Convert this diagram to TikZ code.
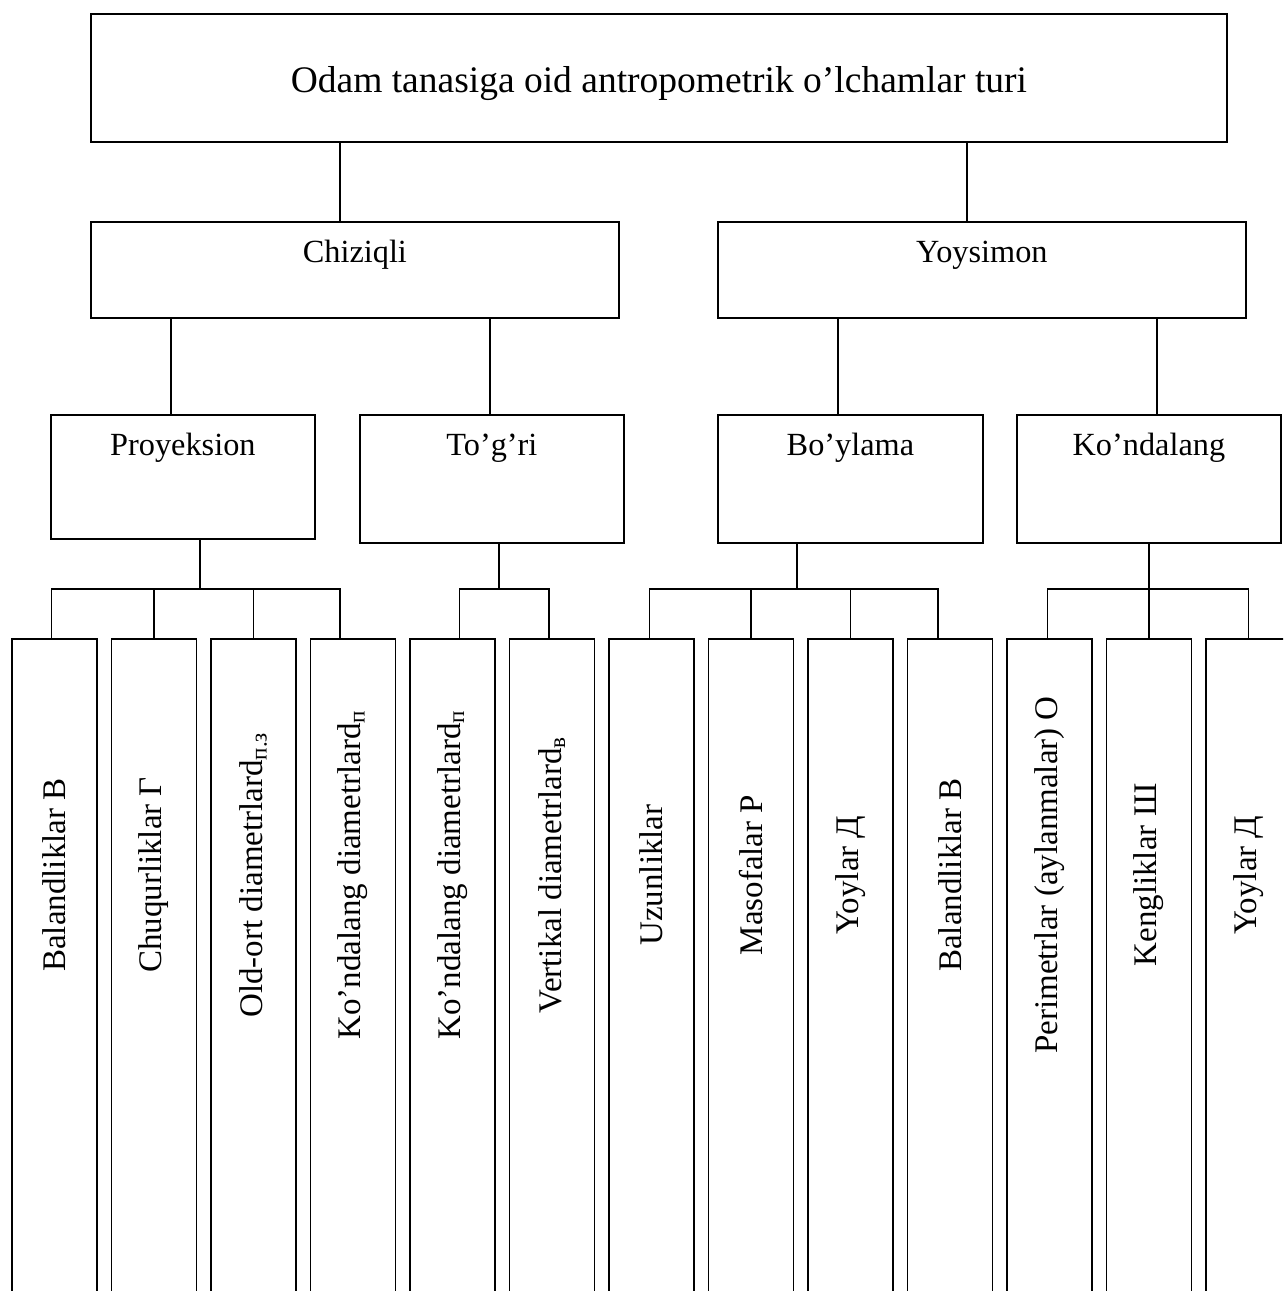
\documentclass[tikz,border=0pt]{standalone}
\usepackage{fontspec}
\setmainfont{Liberation Serif}
\tikzset{%
    mainbox/.style={draw, anchor=north west, inner sep=0pt},
    boxtext/.style={anchor=base, yshift=-41pt, inner sep=0pt,
        font=\fontsize{32.3}{39}\selectfont},
    toptext/.style={anchor=base, yshift=-6pt, inner sep=0pt,
        font=\fontsize{37.5}{45}\selectfont},
    leaf/.style={draw, anchor=north west, inner sep=0pt,
        minimum width=85pt, minimum height=700pt},
    leaftext/.style={rotate=90, inner sep=0pt,
        font=\fontsize{33}{40}\selectfont}
}

\begin{document}
\begin{tikzpicture}[x=1pt, y=-1pt, line width=1.8pt]
    \path[use as bounding box, clip] (0,0) rectangle (1283,1291);
    % top level
    \node[mainbox, minimum width=1136pt, minimum height=128pt,
        label={[toptext]center:Odam tanasiga oid antropometrik o’lchamlar turi}]
        (top) at (90,13) {};
    % second level
    \node[mainbox, minimum width=528pt, minimum height=96pt,
        label={[boxtext]north:Chiziqli}] (chiz) at (90,221) {};
    \node[mainbox, minimum width=528pt, minimum height=96pt,
        label={[boxtext]north:Yoysimon}] (yoys) at (717,221) {};
    % third level
    \node[mainbox, minimum width=264pt, minimum height=124pt,
        label={[boxtext]north:Proyeksion}] (proy) at (50,414) {};
    \node[mainbox, minimum width=264pt, minimum height=128pt,
        label={[boxtext]north:To’g’ri}] (togr) at (359,414) {};
    \node[mainbox, minimum width=265pt, minimum height=128pt,
        label={[boxtext]north:Bo’ylama}] (boyl) at (717,414) {};
    \node[mainbox, minimum width=264pt, minimum height=128pt,
        label={[boxtext]north:Ko’ndalang}] (kond) at (1016,414) {};
    % leaves
    \foreach \t [count=\i] in {Balandliklar В, Chuqurliklar Г,
        Old-ort diametrlard\textsubscript{п.з},
        Ko’ndalang diametrlard\textsubscript{п},
        Ko’ndalang diametrlard\textsubscript{п},
        Vertikal diametrlard\textsubscript{в}, Uzunliklar, Masofalar Р,
        Yoylar Д, Balandliklar В, Perimetrlar (aylanmalar) О,
        Kengliklar Ш, Yoylar Д}
    {
    \node[leaf] (l\i) at ({11+99.5*(\i-1)},638) {};
    \node[leaftext] (t\i) at ([yshift=-237pt]l\i.north) {\t};
    }
    % connectors
    \draw ([xshift=-15pt]chiz.north) -- ([xshift=-15pt]chiz.north |- top.south);
    \draw ([xshift=-15pt]yoys.north) -- ([xshift=-15pt]yoys.north |- top.south);
    \draw ([xshift=-12pt]proy.north) -- ([xshift=-12pt]proy.north |- chiz.south);
    \draw ([xshift=-2pt]togr.north) -- ([xshift=-2pt]togr.north |- chiz.south);
    \draw ([xshift=-12.5pt]boyl.north) -- ([xshift=-12.5pt]boyl.north |- yoys.south);
    \draw ([xshift=8pt]kond.north) -- ([xshift=8pt]kond.north |- yoys.south);
    % Proyeksion group
    \coordinate (pj) at (200,589);
    \draw (proy.south -| pj) -- (pj);
    \draw ([xshift=-3pt]l1.north) |- ([xshift=-13pt]l4.north |- pj)
        -- ([xshift=-13pt]l4.north);
    \draw (l2.north) -- (l2.north |- pj);
    \draw (l3.north) -- (l3.north |- pj);
    % To'g'ri group
    \coordinate (tj) at (499,589);
    \draw (togr.south -| tj) -- (tj);
    \draw ([xshift=7pt]l5.north) |- ([xshift=-3pt]l6.north |- tj)
        -- ([xshift=-3pt]l6.north);
    % Bo'ylama group
    \coordinate (bj) at (797,589);
    \draw (boyl.south -| bj) -- (bj);
    \draw ([xshift=-2pt]l7.north) |- ([xshift=-12pt]l10.north |- bj)
        -- ([xshift=-12pt]l10.north);
    \draw (l8.north) -- (l8.north |- bj);
    \draw (l9.north) -- (l9.north |- bj);
    % Ko'ndalang group
    \coordinate (kj) at (1148,589);
    \draw (kond.south) -- (l12.north);
    \draw ([xshift=-2pt]l11.north) |- (l13.north |- kj) -- (l13.north);
\end{tikzpicture}
\end{document}
